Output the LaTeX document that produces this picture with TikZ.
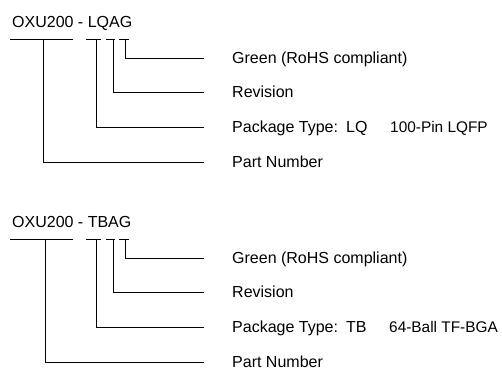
\documentclass[tikz,border=0pt]{standalone}
\usepackage{fontspec}
\setmainfont{Liberation Sans}
\begin{document}
\begin{tikzpicture}[x=1pt,y=-1pt,
  lbl/.style={anchor=base west, inner sep=0pt, font=\fontsize{16}{19}\selectfont, text=black},
  lbls/.style={lbl, font=\fontsize{15.4}{18}\selectfont},
  conn/.style={line width=1pt, draw=black}]
\useasboundingbox (0,0) rectangle (502,367);
% ---------- LQ section ----------
\begin{scope}
\node[lbl] (t1) at (12,27.5) {OXU200 - LQAG};
\coordinate (a1l) at (10,39);  \coordinate (a1r) at (73,39);
\coordinate (b1l) at (86,39);  \coordinate (b1r) at (101,39);
\coordinate (c1l) at (106,39); \coordinate (c1r) at (115,39);
\coordinate (d1l) at (119,39); \coordinate (d1r) at (129,39);
\coordinate (pn1) at (43.5,39); \coordinate (pk1) at (96.5,39);
\coordinate (rv1) at (113,39);  \coordinate (gr1) at (125,39);
\coordinate (gr1e) at (204,58);  \coordinate (rv1e) at (204,92);
\coordinate (pk1e) at (204,127); \coordinate (pn1e) at (204,162);
\draw[conn] (a1l) -- (a1r);
\draw[conn] (b1l) -- (b1r);
\draw[conn] (c1l) -- (c1r);
\draw[conn] (d1l) -- (d1r);
\draw[conn] (gr1) |- (gr1e);
\draw[conn] (rv1) |- (rv1e);
\draw[conn] (pk1) |- (pk1e);
\draw[conn] (pn1) |- (pn1e);
\node[lbl] (g1) at (232,63.7) {Green (RoHS compliant)};
\node[lbl] (r1) at (232,97.7) {Revision};
\node[lbl] (p1) at (232,132.7) {Package Type:};
\node[lbl] (p1c) at (346,132.7) {LQ};
\node[lbls] (p1d) at (390,132.7) {100-Pin LQFP};
\node[lbl] (n1) at (232,167.7) {Part Number};
\end{scope}
% ---------- TB section ----------
\begin{scope}[shift={(0,200)}]
\node[lbl] (t2) at (12,27.5) {OXU200 - TBAG};
\coordinate (a2l) at (10,39);  \coordinate (a2r) at (73,39);
\coordinate (b2l) at (86,39);  \coordinate (b2r) at (101,39);
\coordinate (c2l) at (106,39); \coordinate (c2r) at (115,39);
\coordinate (d2l) at (119,39); \coordinate (d2r) at (129,39);
\coordinate (pn2) at (45,39);  \coordinate (pk2) at (96,39);
\coordinate (rv2) at (113,39); \coordinate (gr2) at (125,39);
\coordinate (gr2e) at (204,58);  \coordinate (rv2e) at (204,92);
\coordinate (pk2e) at (204,127); \coordinate (pn2e) at (204,162);
\draw[conn] (a2l) -- (a2r);
\draw[conn] (b2l) -- (b2r);
\draw[conn] (c2l) -- (c2r);
\draw[conn] (d2l) -- (d2r);
\draw[conn] (gr2) |- (gr2e);
\draw[conn] (rv2) |- (rv2e);
\draw[conn] (pk2) |- (pk2e);
\draw[conn] (pn2) |- (pn2e);
\node[lbl] (g2) at (232,63.7) {Green (RoHS compliant)};
\node[lbl] (r2) at (232,97.7) {Revision};
\node[lbl] (p2) at (232,132.7) {Package Type:};
\node[lbl] (p2c) at (346,132.7) {TB};
\node[lbls] (p2d) at (389,132.7) {64-Ball TF-BGA};
\node[lbl] (n2) at (232,167.7) {Part Number};
\end{scope}
\end{tikzpicture}
\end{document}
